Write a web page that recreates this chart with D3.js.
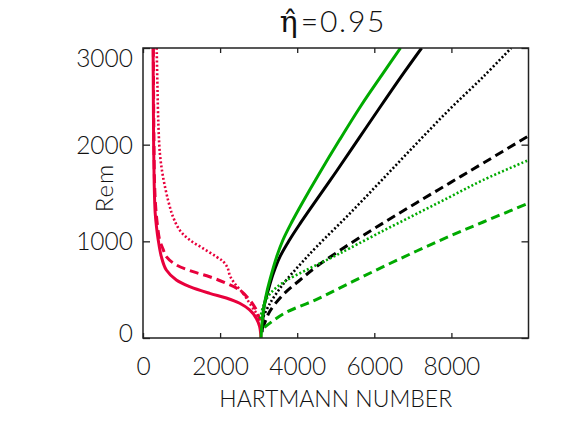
<!DOCTYPE html>
<html>
<head>
<meta charset="utf-8">
<script src="https://cdn.jsdelivr.net/npm/d3@7"></script>
<style>
  html, body { margin: 0; padding: 0; background: #fff; }
  svg { display: block; }
  text { font-family: "Lato", "DejaVu Sans", sans-serif; font-weight: 300; fill: #111; }
</style>
</head>
<body>
<svg id="chart" width="572" height="436"></svg>
<script>
// ---- data ----
const titleSymbol = "\u03B7\u0302";
const titleValue = "=0.95";
const xLabel = "HARTMANN NUMBER";
const yLabel = "Rem";
const xTickValues = [0, 2000, 4000, 6000, 8000];
const yTickValues = [0, 1000, 2000, 3000];

// red (lower branch)
const redSolidH = [262, 268, 276, 290, 315, 350, 395, 476, 605, 865, 1211, 1729, 2162, 2508, 2767, 2940, 3026, 3060];
const redSolidR = [3000, 2500, 2000, 1600, 1300, 1150, 1014, 841, 703, 600, 531, 462, 414, 359, 290, 203, 117, 0];
const redDashH = [268, 275, 285, 300, 330, 380, 432, 520, 605, 865, 1297, 1729, 2162, 2508, 2767, 2940, 3030];
const redDashR = [3000, 2500, 2000, 1600, 1350, 1150, 1014, 920, 841, 755, 686, 634, 565, 496, 393, 290, 180];
const redDotH = [355, 375, 400, 440, 519, 649, 778, 951, 1211, 1556, 1902, 2083, 2190, 2260, 2378, 2594, 2767, 2940, 3030];
const redDotR = [3000, 2600, 2200, 1900, 1669, 1428, 1255, 1117, 1014, 928, 841, 790, 730, 640, 565, 462, 359, 255, 180];

// black (upper branch)
const blackSolidH = [3090, 3104, 3139, 3251, 3381, 3554, 3800, 4070, 4450, 5010, 5590, 6170, 6760, 7228];
const blackSolidR = [60, 152, 324, 497, 669, 842, 1014, 1180, 1400, 1720, 2060, 2400, 2740, 3000];
const blackDashH = [3100, 3165, 3295, 3640, 4073, 4506, 5370, 6234, 7100, 7964, 8828, 10000];
const blackDashR = [100, 165, 280, 450, 600, 740, 975, 1190, 1400, 1605, 1810, 2090];
const blackDotH = [3122, 3295, 3640, 4073, 4506, 5370, 6234, 7100, 7964, 8828, 9550];
const blackDotR = [221, 359, 560, 760, 945, 1290, 1650, 2014, 2370, 2703, 3000];

// green (upper branch)
const greenSolidH = [3062, 3087, 3139, 3225, 3338, 3468, 3630, 3860, 4135, 4570, 5100, 5650, 6230, 6680];
const greenSolidR = [0, 152, 324, 497, 669, 842, 1014, 1200, 1400, 1700, 2050, 2400, 2740, 3000];
const greenDashH = [3150, 3640, 4506, 5370, 6234, 7100, 7964, 8828, 10000];
const greenDashR = [110, 250, 400, 570, 738, 900, 1055, 1200, 1395];
const greenDotH = [3040, 3122, 3300, 3640, 4246, 4937, 5370, 6234, 7100, 7964, 8828, 10000];
const greenDotR = [200, 330, 460, 575, 705, 841, 930, 1110, 1285, 1460, 1635, 1840];

// ---- styles ----
const RED = "#E8003C", BLACK = "#000000", GREEN = "#00AA00";
const series = [
  { h: redSolidH, r: redSolidR, color: RED, dash: null, w: 3 },
  { h: redDashH, r: redDashR, color: RED, dash: "9,5", w: 3 },
  { h: redDotH, r: redDotR, color: RED, dash: "2,2.2", w: 2.6 },
  { h: blackSolidH, r: blackSolidR, color: BLACK, dash: null, w: 3 },
  { h: blackDashH, r: blackDashR, color: BLACK, dash: "9,5", w: 3 },
  { h: blackDotH, r: blackDotR, color: BLACK, dash: "2,2.2", w: 2.6 },
  { h: greenSolidH, r: greenSolidR, color: GREEN, dash: null, w: 3 },
  { h: greenDashH, r: greenDashR, color: GREEN, dash: "9,5", w: 3 },
  { h: greenDotH, r: greenDotR, color: GREEN, dash: "2,2.2", w: 2.6 }
];

// ---- layout ----
const L = 143, R = 528.5, T = 48, B = 338;
const svg = d3.select("#chart");
const x = d3.scaleLinear().domain([0, 10000]).range([L, R]);
const y = d3.scaleLinear().domain([0, 3000]).range([B, T]);

svg.append("defs").append("clipPath").attr("id", "clip")
  .append("rect").attr("x", L).attr("y", T).attr("width", R - L).attr("height", B - T);

const line = d3.line().x(d => x(d[0])).y(d => y(d[1])).curve(d3.curveCatmullRom.alpha(0.5));
const g = svg.append("g").attr("clip-path", "url(#clip)");
series.forEach(s => {
  const pts = s.h.map((h, i) => [h, s.r[i]]);
  g.append("path").datum(pts)
    .attr("d", line)
    .attr("fill", "none")
    .attr("stroke", s.color)
    .attr("stroke-width", s.w)
    .attr("stroke-dasharray", s.dash)
    .attr("stroke-linejoin", "round");
});

// ---- axes ----
const fs = 24.5;
const axisColor = "#222";
function styleAxis(sel) {
  sel.select(".domain").remove();
  sel.selectAll(".tick line").attr("stroke", axisColor).attr("stroke-width", 1.3);
  sel.selectAll(".tick text").attr("font-size", fs).attr("fill", "#111")
    .attr("font-family", "Lato, 'DejaVu Sans', sans-serif").attr("font-weight", 300);
}
const xb = svg.append("g").attr("transform", `translate(0,${B})`)
  .call(d3.axisBottom(x).tickValues(xTickValues).tickSize(-5).tickSizeOuter(0).tickPadding(20).tickFormat(d3.format("d")));
styleAxis(xb);
const xt = svg.append("g").attr("transform", `translate(0,${T})`)
  .call(d3.axisTop(x).tickValues(xTickValues).tickSize(-5).tickSizeOuter(0).tickFormat(""));
styleAxis(xt);
const yl = svg.append("g").attr("transform", `translate(${L},0)`)
  .call(d3.axisLeft(y).tickValues(yTickValues).tickSize(-7).tickSizeOuter(0).tickPadding(10).tickFormat(d3.format("d")));
styleAxis(yl);
// keep end labels inside the frame height like the reference
yl.selectAll(".tick text").attr("dy", null)
  .attr("y", function(d) {
    const cy = Math.max(T + 9.5, Math.min(B - 5, y(d)));
    return cy - y(d) + 8.5;
  });
const yr = svg.append("g").attr("transform", `translate(${R},0)`)
  .call(d3.axisRight(y).tickValues(yTickValues).tickSize(-7).tickSizeOuter(0).tickFormat(""));
styleAxis(yr);

// frame
svg.append("rect").attr("x", L).attr("y", T).attr("width", R - L).attr("height", B - T)
  .attr("fill", "none").attr("stroke", axisColor).attr("stroke-width", 1.5);

// ---- labels ----
const title = svg.append("text").attr("x", 333).attr("y", 32).attr("text-anchor", "middle")
  .attr("font-size", 30);
title.append("tspan").attr("font-family", "'DejaVu Serif', serif")
  .attr("font-weight", 400).attr("font-size", 30).text(titleSymbol);
title.append("tspan").attr("dx", 3).attr("letter-spacing", 1.8).text(titleValue);

svg.append("text").attr("x", (L + R) / 2).attr("y", 407).attr("text-anchor", "middle")
  .attr("font-size", 23).text(xLabel);
svg.append("text").attr("transform", "translate(113,188) rotate(-90)").attr("text-anchor", "middle")
  .attr("font-size", 24).attr("letter-spacing", 1).text(yLabel);
</script>
</body>
</html>
